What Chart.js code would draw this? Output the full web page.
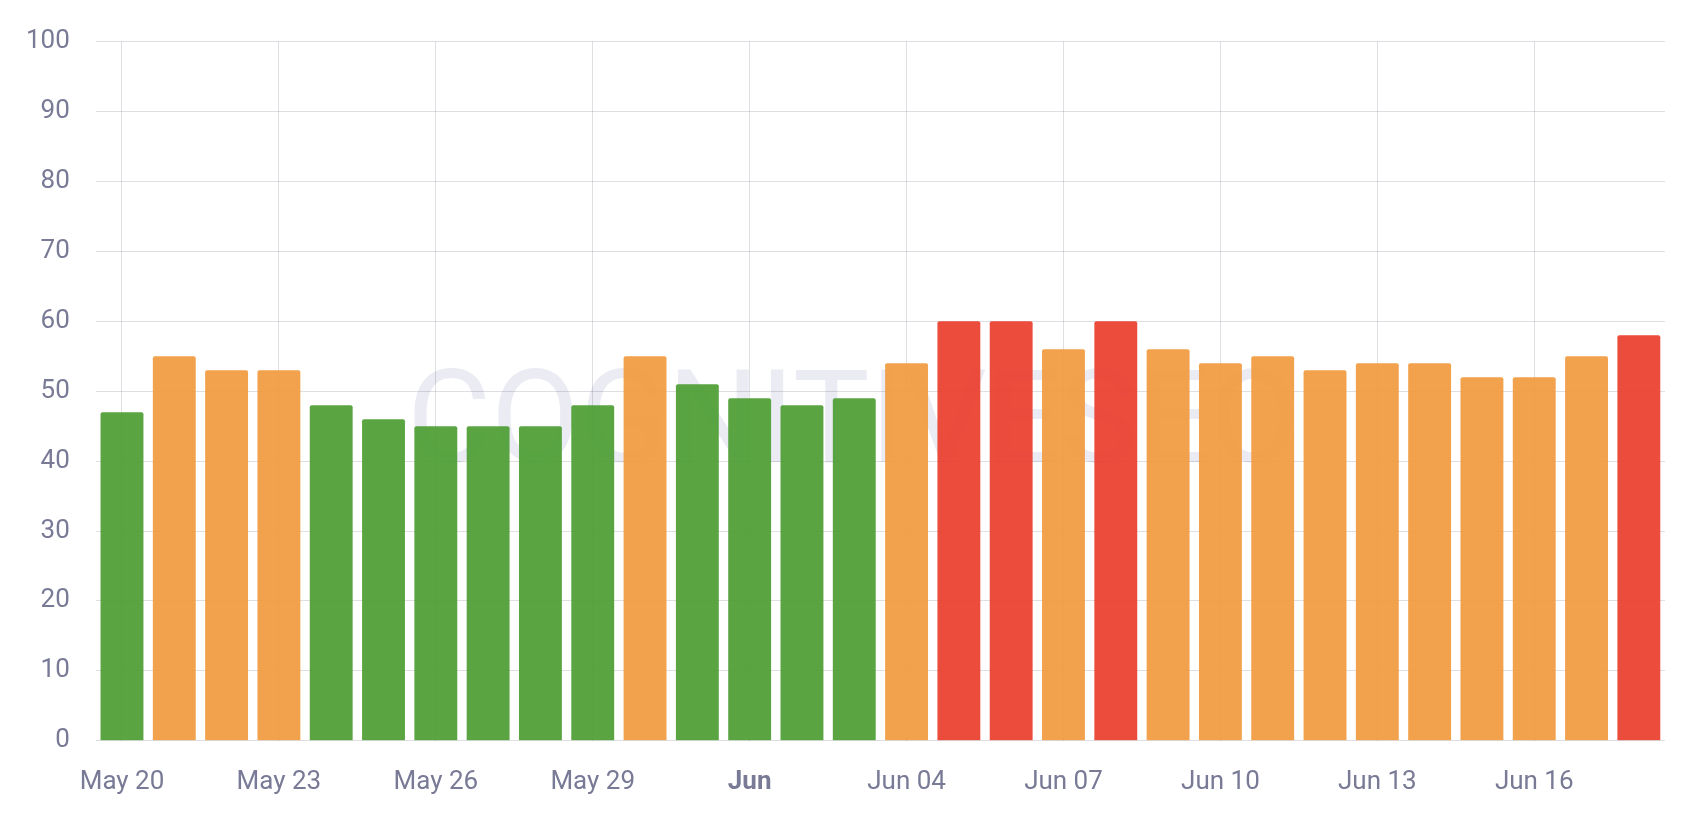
<!DOCTYPE html>
<html>
<head>
<meta charset="utf-8">
<script src="https://cdn.jsdelivr.net/npm/chart.js@4.4.0/dist/chart.umd.min.js"></script>
<style>
  html, body { margin: 0; padding: 0; background: #fff; }
  #wrap { width: 1690px; height: 828px; }
</style>
</head>
<body>
<div id="wrap"><canvas id="myChart"></canvas></div>
<script>
/* days shown on the x axis */
const days = ["May 20", "May 21", "May 22", "May 23", "May 24", "May 25", "May 26",
    "May 27", "May 28", "May 29", "May 30", "May 31", "Jun", "Jun 02", "Jun 03",
    "Jun 04", "Jun 05", "Jun 06", "Jun 07", "Jun 08", "Jun 09", "Jun 10", "Jun 11",
    "Jun 12", "Jun 13", "Jun 14", "Jun 15", "Jun 16", "Jun 17", "Jun 18"];

const scores = [47, 55, 53, 53, 48, 46, 45, 45, 45, 48, 55, 51, 49, 48, 49,
    54, 60, 60, 56, 60, 56, 54, 55, 53, 54, 54, 52, 52, 55, 58];

/* g = green, o = orange, r = red */
const levels = ["g", "o", "o", "o", "g", "g", "g", "g", "g", "g", "o", "g", "g", "g", "g",
    "o", "r", "r", "o", "r", "o", "o", "o", "o", "o", "o", "o", "o", "o", "r"];

const yTicks = [0, 10, 20, 30, 40, 50, 60, 70, 80, 90, 100];

const levelColors = {
    g: 'rgba(78, 158, 52, 0.93)',
    o: 'rgba(241, 154, 62, 0.93)',
    r: 'rgba(233, 62, 45, 0.93)'
};

const textColor = '#787a96';
const gridColor = 'rgba(20, 20, 60, 0.14)';

/* watermark behind the grid */
const watermark = {
    id: 'watermark',
    beforeDraw(chart) {
        const c = chart.ctx;
        const a = chart.chartArea;
        c.save();
        c.font = '129px Roboto';
        c.fillStyle = '#ebecf3';
        c.textAlign = 'center';
        c.textBaseline = 'alphabetic';
        c.fillText('COGNITIVESEO', a.left + (a.right - a.left) * 0.4825, 462);
        c.restore();
    }
};

const ctx = document.getElementById("myChart");

new Chart(ctx, {
    type: "bar",
    data: {
        labels: days,
        datasets: [{
            data: scores,
            backgroundColor: levels.map(l => levelColors[l]),
            barPercentage: 0.82,
            categoryPercentage: 1,
            borderRadius: 2,
            borderSkipped: 'bottom'
        }]
    },
    options: {
        responsive: true,
        maintainAspectRatio: false,
        animation: false,
        layout: {
            padding: { left: 0, right: 25, top: 22, bottom: 4 }
        },
        plugins: {
            legend: { display: false },
            tooltip: { enabled: false }
        },
        scales: {
            x: {
                offset: true,
                border: { display: false },
                grid: {
                    offset: false,
                    drawTicks: false,
                    color: gridColor
                },
                ticks: {
                    autoSkip: false,
                    maxRotation: 0,
                    padding: 26,
                    color: textColor,
                    font: (c) => ({ family: 'Roboto', size: 26, weight: (c.tick && c.tick.label === 'Jun') ? 'bold' : 'normal' }),
                    callback: function (value, index) {
                        return index % 3 === 0 ? this.getLabelForValue(value) : null;
                    }
                }
            },
            y: {
                min: 0,
                max: 100,
                afterBuildTicks: (axis) => {
                    axis.ticks = yTicks.map(v => ({ value: v }));
                },
                border: { display: false },
                grid: {
                    drawTicks: false,
                    color: gridColor
                },
                ticks: {
                    padding: 26,
                    color: textColor,
                    font: { family: 'Roboto', size: 26 }
                }
            }
        }
    },
    plugins: [watermark]
});
</script>
</body>
</html>
